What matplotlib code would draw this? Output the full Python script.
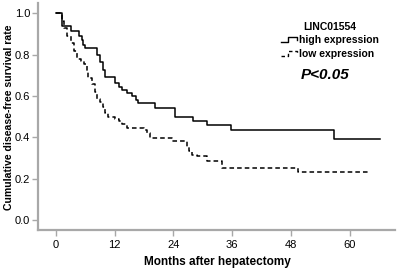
import matplotlib.pyplot as plt
from matplotlib.lines import Line2D
from matplotlib.legend_handler import HandlerBase

plt.rcParams['font.family'] = ['Liberation Sans', 'DejaVu Sans']

# Kaplan-Meier step points (months, survival after the step)
high_t = [0, 1.3, 3.1, 4.6, 5.3, 5.6, 6.0, 8.4, 8.9, 9.6, 10.1, 12.1, 12.8, 13.5,
          14.5, 15.5, 16.4, 16.7, 20.2, 24.3, 28.0, 30.9, 35.8, 56.9, 66.3]
high_s = [1.0, 0.94, 0.915, 0.888, 0.872, 0.847, 0.832, 0.80, 0.767, 0.726, 0.694,
          0.662, 0.645, 0.63, 0.613, 0.598, 0.58, 0.565, 0.543, 0.50, 0.48, 0.46,
          0.436, 0.39, 0.39]

low_t = [0, 1.2, 1.7, 2.3, 3.0, 3.6, 4.3, 5.0, 5.8, 6.3, 6.6, 7.4, 8.0, 8.4, 9.0,
         9.6, 10.0, 10.7, 12.1, 12.8, 13.5, 14.4, 17.9, 18.5, 19.2, 23.7, 26.7,
         27.1, 27.7, 28.8, 30.8, 33.9, 49.5, 64.2]
low_s = [1.0, 0.965, 0.93, 0.89, 0.855, 0.82, 0.78, 0.77, 0.755, 0.72, 0.685, 0.66,
         0.62, 0.585, 0.57, 0.545, 0.52, 0.50, 0.49, 0.48, 0.465, 0.444, 0.436,
         0.42, 0.396, 0.382, 0.356, 0.332, 0.315, 0.308, 0.286, 0.25, 0.231, 0.231]

x_ticks = [0, 12, 24, 36, 48, 60]
y_ticks = [0.0, 0.2, 0.4, 0.6, 0.8, 1.0]


class StepHandler(HandlerBase):
    # little step-shaped legend key like SPSS draws
    def create_artists(self, legend, orig, xd, yd, w, h, fontsize, trans):
        xs = [-xd, -xd + 0.45 * w, -xd + 0.45 * w, -xd + w, -xd + w]
        ys = [-yd + 0.2 * h, -yd + 0.2 * h, -yd + 0.85 * h, -yd + 0.85 * h, -yd + 0.45 * h]
        ln = Line2D(xs, ys)
        ln.update_from(orig)
        ln.set_transform(trans)
        return [ln]


fig = plt.figure(figsize=(3.98, 2.71), dpi=100)
ax = fig.add_axes([0.0955, 0.151, 0.897, 0.838])

ax.step(high_t, high_s, where='post', color='black', lw=1.1)
ax.step(low_t, low_s, where='post', color='black', lw=1.1, dashes=(3, 2))

ax.set_xlim(-3.7, 69.3)
ax.set_ylim(-0.048, 1.05)
ax.set_xticks(x_ticks)
ax.set_yticks(y_ticks)
ax.set_yticklabels([f'{v:.1f}' for v in y_ticks])

for s in ['top', 'right']:
    ax.spines[s].set_visible(False)
for s in ['left', 'bottom']:
    ax.spines[s].set_color('#a8a8a8')
    ax.spines[s].set_linewidth(1.6)
ax.tick_params(colors='#a8a8a8', labelcolor='black', length=4, width=1,
               labelsize=8)
ax.tick_params(axis='y', pad=1.5)

fig.text(217 / 398, 1 - 262 / 271, 'Months after hepatectomy', fontsize=8.5,
         fontweight='bold', ha='center', va='center')
fig.text(9 / 398, 1 - 117 / 271, 'Cumulative disease-free survival rate',
         fontsize=7.6, fontweight='bold', ha='center', va='center', rotation=90)

handles = [Line2D([], [], color='black', lw=1.0),
           Line2D([], [], color='black', lw=1.0, dashes=(2.5, 2))]
leg = ax.legend(handles, ['high expression', 'low expression'], title='LINC01554',
                loc='upper left', bbox_to_anchor=(0.665, 0.94), frameon=False,
                fontsize=7.5, title_fontsize=7.5, handlelength=1.6, handletextpad=0.15,
                labelspacing=0.35, borderpad=0,
                handler_map={Line2D: StepHandler()})
for t in leg.get_texts():
    t.set_fontweight('bold')
leg.get_title().set_fontweight('bold')

ax.text(0.804, 0.683, 'P<0.05', transform=ax.transAxes, fontsize=11,
        fontweight='bold', fontstyle='italic', ha='center', va='center')

fig.savefig('out.png', dpi=100)
